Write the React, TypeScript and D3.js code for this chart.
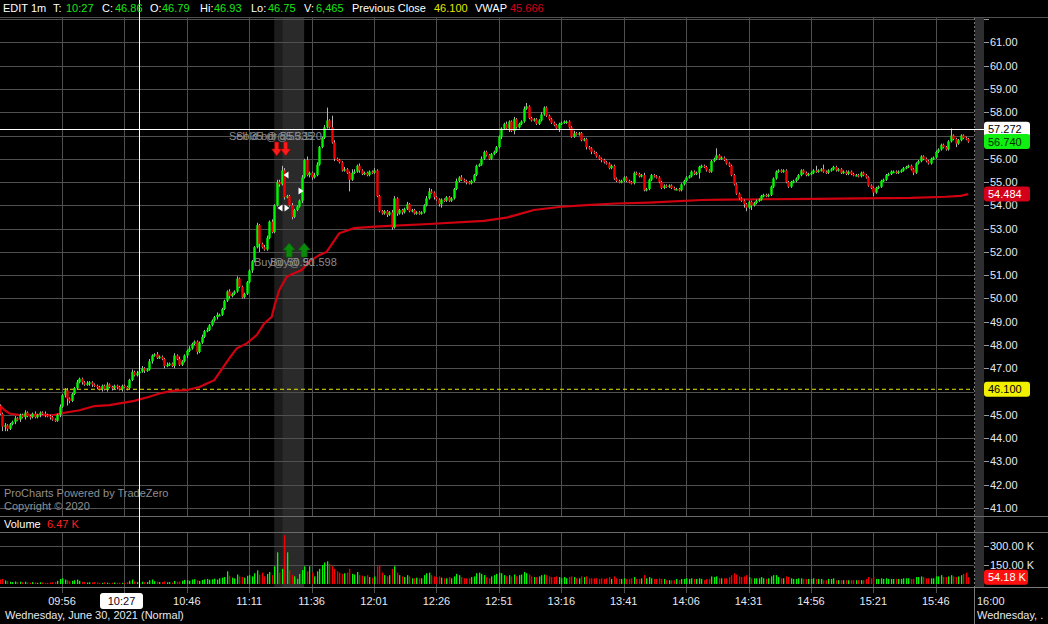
import React from "react";
import * as d3 from "d3";

const W = 1048;
const H = 624;

// ---------- DATA ----------
const FIRST_OPEN = 45.5;
// 1-minute closes, 9:30 .. 15:59 (390 candles)
const closes: number[] = [
  45.40, 45.05, 44.50, 44.55, 44.40, 44.60, 44.70, 44.85, 44.80, 45.00,
  44.90, 45.10, 44.95, 44.90, 45.05, 44.90, 45.00, 45.10, 45.05, 45.00,
  44.95, 44.90, 44.80, 44.75, 45.00, 45.35, 45.85, 46.05, 45.70, 45.60,
  45.90, 46.15, 46.40, 46.55, 46.40, 46.30, 46.35, 46.40, 46.30, 46.25,
  46.20, 46.10, 46.25, 46.10, 46.30, 46.20, 46.15, 46.25, 46.20, 46.10,
  46.25, 46.20, 46.15, 46.50, 46.85, 46.70, 46.79, 46.86, 47.00, 46.90,
  46.95, 47.30, 47.55, 47.60, 47.45, 47.50, 47.40, 47.10, 47.15, 47.20,
  47.10, 47.55, 47.40, 47.15, 47.30, 47.55, 47.75, 47.85, 48.05, 48.15,
  47.70, 48.10, 48.35, 48.60, 48.65, 48.85, 49.05, 49.20, 49.30, 49.30,
  49.55, 49.90, 50.30, 50.10, 50.20, 50.30, 50.85, 50.50, 50.05, 50.20,
  50.70, 51.20, 51.60, 52.20, 53.15, 52.35, 52.20, 52.10, 52.60, 53.30,
  52.85, 54.00, 55.00, 54.90, 55.50, 54.35, 54.40, 54.00, 53.50, 53.80,
  53.95, 54.20, 55.20, 55.95, 55.30, 55.40, 55.20, 55.30, 55.75, 56.50,
  56.90, 57.35, 57.65, 57.35, 56.70, 56.00, 55.95, 55.85, 55.50, 55.55,
  55.40, 55.10, 55.40, 55.45, 55.70, 55.50, 55.35, 55.40, 55.30, 55.45,
  55.40, 55.50, 54.40, 53.75, 53.65, 53.75, 53.60, 53.70, 53.05, 54.30,
  53.65, 53.80, 53.70, 53.85, 54.05, 53.75, 53.80, 53.65, 53.70, 53.65,
  53.70, 54.00, 54.30, 54.60, 54.55, 54.35, 54.25, 54.05, 54.25, 54.20,
  54.35, 54.20, 54.30, 54.70, 55.05, 55.20, 55.10, 55.05, 55.00, 54.95,
  55.05, 55.30, 55.70, 55.75, 56.00, 56.30, 56.15, 56.00, 56.20, 56.30,
  56.50, 56.95, 57.30, 57.50, 57.30, 57.60, 57.20, 57.70, 57.35, 57.50,
  57.60, 58.15, 58.25, 57.75, 57.65, 57.70, 57.50, 57.65, 57.90, 58.20,
  57.85, 57.70, 57.55, 57.45, 57.30, 57.50, 57.55, 57.60, 57.60, 57.35,
  56.95, 57.10, 57.05, 57.10, 56.80, 56.85, 56.50, 56.45, 56.30, 56.25,
  56.10, 56.00, 55.95, 55.85, 55.80, 55.60, 55.70, 55.15, 55.05, 55.00,
  55.05, 55.20, 55.05, 55.00, 54.95, 55.40, 55.35, 55.25, 55.30, 54.65,
  54.70, 55.10, 55.30, 55.25, 55.20, 55.00, 54.75, 54.85, 54.80, 54.85,
  54.75, 54.70, 54.70, 54.65, 54.90, 55.05, 55.20, 55.25, 55.45, 55.35,
  55.40, 55.65, 55.70, 55.65, 55.50, 55.45, 55.90, 56.00, 56.15, 56.00,
  56.05, 55.95, 55.80, 55.70, 55.30, 54.90, 54.50, 54.30, 54.20, 54.05,
  53.90, 54.15, 54.00, 54.10, 54.20, 54.25, 54.40, 54.45, 54.40, 54.45,
  54.80, 55.15, 55.45, 55.50, 55.45, 55.50, 55.00, 54.80, 55.00, 55.05,
  55.15, 55.30, 55.50, 55.40, 55.30, 55.35, 55.40, 55.50, 55.45, 55.50,
  55.55, 55.45, 55.40, 55.50, 55.55, 55.65, 55.50, 55.55, 55.40, 55.45,
  55.35, 55.45, 55.35, 55.30, 55.30, 55.25, 55.40, 55.30, 55.20, 54.85,
  54.75, 54.55, 54.75, 54.80, 55.05, 55.10, 55.30, 55.35, 55.45, 55.45,
  55.40, 55.45, 55.50, 55.60, 55.65, 55.70, 55.55, 55.40, 55.80, 55.90,
  56.10, 56.00, 55.90, 55.80, 56.00, 56.05, 56.30, 56.40, 56.60, 56.50,
  56.40, 56.75, 57.00, 56.85, 56.65, 56.80, 57.00, 56.90, 56.85, 56.74,
];

// wick lengths above / below the body, in 0.05 steps (base-36 digits)
const upperWicks =
  "1112111211" + "1211121112" + "1111121221" + "1121112111" + "1111211111" +
  "1111212121" + "1211211121" + "1212111211" + "1121211121" + "1112112111" +
  "1111211221" + "2122421121" + "1121311221" + "12b1a21112" + "1132121111" +
  "1211111122" + "1111211111" + "1123211111" + "1111212111" + "1111211111" +
  "1111211211" + "1231111121" + "1111111111" + "1211111111" + "1111111111" +
  "1111111112" + "1111111111" + "1111111111" + "1111111161" + "1111111111" +
  "1111111111" + "1111111111" + "1111111141" + "1411111111" + "1111111111" +
  "1111111111" + "1111111111" + "1111111111" + "1161111111";
const lowerWicks =
  "1144211212" + "1212111212" + "1211121262" + "1111211221" + "2121212121" +
  "2121111112" + "1121111211" + "1211112111" + "2111111121" + "1112111111" +
  "1121171111" + "1112121121" + "1121122111" + "1111121111" + "1a11121111" +
  "1111112121" + "2121111111" + "1111121231" + "1111111121" + "1111111111" +
  "1121131311" + "1111111111" + "1111131121" + "1111112121" + "1121111111" +
  "1111111111" + "1111111111" + "1111111111" + "1511111111" + "1111111113" +
  "3141111111" + "1111111111" + "1111111111" + "1111111111" + "1111111111" +
  "1311111111" + "1111111211" + "1111111111" + "1111311111";

// 1-minute volume, thousands of shares
const volumes: number[] = [
  45, 35, 40, 28, 22, 18, 15, 20, 15, 18,
  14, 18, 12, 10, 15, 12, 9, 14, 12, 9,
  10, 12, 14, 15, 25, 40, 45, 35, 30, 22,
  25, 30, 35, 25, 18, 15, 12, 14, 12, 15,
  12, 10, 9, 14, 10, 9, 10, 12, 9, 10,
  9, 10, 14, 25, 35, 20, 15, 6.465, 18, 15,
  16, 30, 35, 22, 18, 15, 16, 20, 14, 15,
  12, 24, 18, 20, 26, 32, 30, 26, 35, 38,
  30, 24, 32, 36, 40, 34, 37, 42, 35, 45,
  50, 55, 100, 65, 50, 45, 75, 60, 55, 50,
  65, 70, 60, 85, 108, 75, 90, 60, 80, 95,
  70, 140, 250, 90, 120, 385, 250, 110, 70, 60,
  40, 80, 110, 140, 100, 140, 90, 60, 100, 120,
  150, 170, 180, 160, 140, 120, 100, 90, 80, 85,
  90, 120, 80, 75, 95, 70, 65, 60, 70, 55,
  50, 60, 140, 150, 90, 70, 60, 70, 120, 140,
  90, 70, 60, 55, 70, 60, 45, 45, 50, 45,
  45, 70, 85, 90, 70, 60, 55, 60, 50, 45,
  45, 55, 45, 60, 80, 70, 55, 45, 45, 45,
  55, 60, 85, 90, 80, 70, 55, 45, 60, 70,
  80, 90, 85, 70, 60, 70, 60, 75, 60, 70,
  75, 95, 85, 75, 60, 55, 55, 60, 70, 75,
  70, 60, 55, 55, 60, 55, 45, 55, 45, 55,
  60, 55, 45, 45, 60, 55, 60, 45, 45, 45,
  45, 40, 45, 40, 45, 55, 40, 60, 45, 40,
  40, 45, 40, 40, 45, 55, 40, 40, 45, 70,
  45, 55, 45, 40, 40, 45, 40, 40, 30, 30,
  30, 30, 40, 30, 40, 40, 45, 40, 45, 40,
  40, 45, 40, 30, 40, 40, 60, 55, 60, 45,
  45, 45, 45, 55, 70, 85, 75, 60, 55, 60,
  70, 55, 45, 45, 45, 45, 55, 45, 40, 45,
  60, 70, 70, 55, 45, 45, 60, 55, 45, 40,
  40, 45, 45, 40, 40, 40, 40, 45, 40, 40,
  40, 30, 30, 40, 40, 45, 30, 30, 30, 30,
  30, 30, 30, 30, 30, 30, 30, 30, 40, 55,
  45, 55, 40, 40, 45, 40, 45, 40, 40, 40,
  40, 40, 40, 45, 45, 45, 40, 40, 55, 55,
  60, 55, 45, 45, 45, 45, 60, 60, 70, 55,
  55, 60, 70, 60, 55, 60, 70, 80, 90, 54.18,
];

// VWAP read at selected minutes (minute index from 9:30)
const vwapMinutes = [1, 3, 5, 9, 17, 23, 27, 33, 39, 45, 55, 57, 61, 65, 70, 76, 81, 87, 89, 93, 96, 100, 104, 107, 110, 111, 113, 116, 119, 122, 125, 129, 132, 137, 143, 153, 173, 195, 204, 215, 226, 236, 248, 261, 282, 291, 328, 366, 380, 386, 389];
const vwapValues = [45.42, 45.2, 45.06, 44.99, 44.99, 45.0, 45.09, 45.2, 45.38, 45.42, 45.6, 45.666, 45.78, 45.92, 46.03, 46.06, 46.2, 46.49, 46.8, 47.43, 47.86, 48.07, 48.43, 48.93, 49.21, 49.64, 50.36, 50.93, 51.08, 51.22, 51.58, 51.86, 52.0, 52.8, 53.02, 53.1, 53.2, 53.33, 53.47, 53.8, 53.94, 54.01, 54.08, 54.12, 54.23, 54.25, 54.28, 54.32, 54.37, 54.41, 54.484];

// price gridlines; labels hidden by the value boxes (46, 57) are not drawn
const priceGrid = [41, 42, 43, 44, 45, 46, 47, 48, 49, 50, 51, 52, 53, 54, 55, 56, 57, 58, 59, 60, 61, 62];
const priceLabels = [41, 42, 43, 44, 45, 47, 48, 49, 50, 51, 52, 53, 54, 55, 56, 58, 59, 60, 61];
const volumeTicks = [150, 300];
const volumeTickLabels = ["150.00 K", "300.00 K"];
const timeTickMinutes = [26, 51, 76, 101, 126, 151, 176, 201, 226, 251, 276, 301, 326, 351, 376];
const timeTickLabels = ["09:56", "10:21", "10:46", "11:11", "11:36", "12:01", "12:26", "12:51", "13:16", "13:41", "14:06", "14:31", "14:56", "15:21", "15:46"];

const PREV_CLOSE = 46.1;
const CROSS_MINUTE = 57;
const CROSS_LABEL = "10:27";
const CROSS_PRICE = 57.272;
const LAST_PRICE = 56.74;
const LAST_VWAP = 54.484;
const LAST_VOLUME = 54.18;
const TRADE_WINDOW = [111, 114.2, 123];
const sellMinutes = [112.0, 115.6];
const buyMinutes = [117.0, 123.0];

// ---------- LAYOUT ----------
const FONT = "'Liberation Sans', Arial, sans-serif";
const PLOT_R = 974;
const PRICE_TOP = 18;
const PRICE_BOT = 516;
const VOL_TOP = 532;
const VOL_BOT = 584;
const AXIS_Y = 587;
const GREEN = "#00f800";
const RED = "#f40000";
const GRID = "#505050";

export default function App() {
  const x = d3.scaleLinear().domain([0, 390]).range([-2.9, 970.7]);
  const y = d3.scaleLinear().domain([41, 61]).range([508, 42.4]);
  const yv = d3.scaleLinear().domain([0, 300]).range([VOL_BOT, 546]);

  const candles = closes.map((c, i) => {
    const o = i === 0 ? FIRST_OPEN : closes[i - 1];
    const uw = parseInt(upperWicks[i] || "1", 36) * 0.05;
    const lw = parseInt(lowerWicks[i] || "1", 36) * 0.05;
    return { i, o, c, h: Math.max(o, c) + uw, l: Math.min(o, c) - lw, v: volumes[i] };
  });

  const vwapLine = d3
    .line<number>()
    .x((_, k) => x(vwapMinutes[k]))
    .y((d) => y(d))
    .curve(d3.curveLinear)(vwapValues) as string;

  const box = (yc: number, label: string, fill: string, color: string, w = 46) => (
    <g key={label}>
      <rect x={984} y={yc - 7.5} width={w} height={15} rx={3} fill={fill} />
      <text x={988} y={yc + 4} fontSize={11} fill={color} fontFamily={FONT}>
        {label}
      </text>
    </g>
  );

  const crossX = x(CROSS_MINUTE);
  const crossY = y(CROSS_PRICE);

  const downArrow = (cx: number, top: number, key: string) => (
    <path
      key={key}
      d={`M${cx - 2},${top} h4 v7 h3 l-5,7 l-5,-7 h3 z`}
      fill="#ff1a1a"
      stroke="#a00000"
      strokeWidth={0.6}
    />
  );
  const upArrow = (cx: number, top: number, key: string) => (
    <path
      key={key}
      d={`M${cx},${top} l6,7 h-3 v7 h-6 v-7 h-3 z`}
      fill="#0a8a0a"
      stroke="#0c5c0c"
      strokeWidth={0.6}
    />
  );
  const tri = (cx: number, cy: number, dir: number, key: string) => (
    <path key={key} d={`M${cx + dir * -2.5},${cy} L${cx + dir * 2.5},${cy - 3.5} L${cx + dir * 2.5},${cy + 3.5} Z`} fill="#ffffff" />
  );

  return (
    <svg
      width={W}
      height={H}
      style={{ position: "fixed", left: 0, top: 0, background: "#000" }}
      fontFamily={FONT}
    >
      <defs>
        <clipPath id="pricePane">
          <rect x={0} y={PRICE_TOP} width={PLOT_R} height={PRICE_BOT - PRICE_TOP} />
        </clipPath>
        <clipPath id="volPane">
          <rect x={0} y={VOL_TOP} width={PLOT_R} height={VOL_BOT - VOL_TOP + 2} />
        </clipPath>
      </defs>
      <rect x={0} y={0} width={W} height={H} fill="#000" />

      {/* trade window shading */}
      <rect x={x(TRADE_WINDOW[0])} y={PRICE_TOP} width={x(TRADE_WINDOW[1]) - x(TRADE_WINDOW[0])} height={AXIS_Y - PRICE_TOP} fill="#1c1c1c" />
      <rect x={x(TRADE_WINDOW[1])} y={PRICE_TOP} width={x(TRADE_WINDOW[2]) - x(TRADE_WINDOW[1])} height={AXIS_Y - PRICE_TOP} fill="#2a2a2a" />
      {/* right strip */}
      <rect x={975} y={PRICE_TOP} width={9} height={AXIS_Y - PRICE_TOP} fill="#2e2e30" />

      {/* price grid */}
      {priceGrid.map((p) => (
        <g key={"pg" + p}>
          <line x1={0} x2={PLOT_R} y1={Math.round(y(p)) + 0.5} y2={Math.round(y(p)) + 0.5} stroke={GRID} />
          <line x1={984} x2={989} y1={Math.round(y(p)) + 0.5} y2={Math.round(y(p)) + 0.5} stroke="#9a9a9a" />
        </g>
      ))}
      {volumeTicks.map((v) => (
        <g key={"vg" + v}>
          <line x1={0} x2={PLOT_R} y1={Math.round(yv(v)) + 0.5} y2={Math.round(yv(v)) + 0.5} stroke={GRID} />
          <line x1={984} x2={989} y1={Math.round(yv(v)) + 0.5} y2={Math.round(yv(v)) + 0.5} stroke="#9a9a9a" />
        </g>
      ))}
      {timeTickMinutes.map((m) => (
        <g key={"tg" + m}>
          <line x1={Math.round(x(m)) + 0.5} x2={Math.round(x(m)) + 0.5} y1={PRICE_TOP} y2={PRICE_BOT} stroke={GRID} />
          <line x1={Math.round(x(m)) + 0.5} x2={Math.round(x(m)) + 0.5} y1={VOL_TOP} y2={AXIS_Y + 6} stroke={GRID} />
        </g>
      ))}

      {/* pane borders */}
      <line x1={0} x2={W} y1={17.5} y2={17.5} stroke={GRID} />
      <line x1={0} x2={W} y1={PRICE_BOT + 0.5} y2={PRICE_BOT + 0.5} stroke="#6a6a6a" />
      <line x1={0} x2={W} y1={VOL_TOP + 0.5} y2={VOL_TOP + 0.5} stroke="#6a6a6a" />
      <line x1={0} x2={W} y1={AXIS_Y + 0.5} y2={AXIS_Y + 0.5} stroke="#7a7a7a" />
      <line x1={974.5} x2={974.5} y1={PRICE_TOP} y2={AXIS_Y} stroke="#777" strokeDasharray="2,2" />
      <line x1={974.5} x2={974.5} y1={AXIS_Y} y2={H} stroke="#7a7a7a" />

      {/* previous close */}
      <line x1={0} x2={PLOT_R} y1={y(PREV_CLOSE)} y2={y(PREV_CLOSE)} stroke="#e8e800" strokeWidth={1} strokeDasharray="4,3" />

      <g clipPath="url(#pricePane)">
        {/* VWAP */}
        <path d={vwapLine} fill="none" stroke="#d00010" strokeWidth={2.2} />
        {/* candles */}
        {candles.map((d) => (
          <line key={"w" + d.i} x1={Math.round(x(d.i)) + 0.5} x2={Math.round(x(d.i)) + 0.5} y1={y(d.h)} y2={y(d.l)} stroke="#b4b4b4" strokeWidth={1} />
        ))}
        {candles.map((d) => {
          const top = y(Math.max(d.o, d.c));
          const bot = y(Math.min(d.o, d.c));
          return (
            <rect
              key={"b" + d.i}
              x={Math.round(x(d.i)) - 0.7}
              y={top}
              width={2.4}
              height={Math.max(1.5, bot - top)}
              fill={d.c >= d.o ? GREEN : RED}
            />
          );
        })}
      </g>

      {/* volume */}
      <g clipPath="url(#volPane)">
        {candles.map((d) => (
          <rect
            key={"v" + d.i}
            x={Math.round(x(d.i))}
            y={yv(d.v)}
            width={1.3}
            height={VOL_BOT - yv(d.v)}
            fill={d.c >= d.o ? GREEN : RED}
          />
        ))}
      </g>

      {/* trade annotations (overlapping order labels, as in the platform) */}
      <g fontSize={11} fill="#8c8c8c">
        <text x={229} y={140}>Sell 35 @ 55.335</text>
        <text x={236} y={140}>Sold bdr@55.120</text>
        <text x={254} y={266}>Buy@ 50.90</text>
        <text x={270} y={266}>Buy@ 51.598</text>
      </g>
      {sellMinutes.map((m, k) => downArrow(x(m), 142, "sa" + k))}
      {buyMinutes.map((m, k) => upArrow(x(m), 243, "ba" + k))}
      {tri(286, 175, 1, "t1")}
      {tri(280, 208, 1, "t2")}
      {tri(287, 208, -1, "t3")}
      {tri(301, 191, -1, "t4")}

      {/* watermark */}
      <text x={4} y={497} fontSize={11} fill="#8f8f8f">ProCharts Powered by TradeZero</text>
      <text x={4} y={510} fontSize={11} fill="#8f8f8f">Copyright © 2020</text>

      {/* volume title */}
      <text x={4} y={528} fontSize={11} fill="#ffffff">Volume</text>
      <text x={47} y={528} fontSize={11} fill="#ff2020">6.47 K</text>

      {/* crosshair */}
      <line x1={0} x2={984} y1={Math.round(crossY) + 0.5} y2={Math.round(crossY) + 0.5} stroke="#ffffff" />
      <line x1={Math.round(crossX) + 0.5} x2={Math.round(crossX) + 0.5} y1={0} y2={AXIS_Y + 1} stroke="#ffffff" />

      {/* right axis */}
      {priceLabels.map((p) => (
        <text key={"pl" + p} x={990} y={y(p) + 4} fontSize={11} fill="#e6e8f0">
          {p.toFixed(2)}
        </text>
      ))}
      {volumeTicks.map((v, k) => (
        <text key={"vl" + v} x={990} y={yv(v) + 4} fontSize={11} fill="#e6e8f0">
          {volumeTickLabels[k]}
        </text>
      ))}
      {box(y(CROSS_PRICE), CROSS_PRICE.toFixed(3), "#ffffff", "#000000")}
      {box(y(LAST_PRICE), LAST_PRICE.toFixed(3), "#11ee11", "#003000")}
      {box(y(LAST_VWAP), LAST_VWAP.toFixed(3), "#d4001a", "#ffffff")}
      {box(y(PREV_CLOSE), PREV_CLOSE.toFixed(3), "#f0f000", "#000000")}
      {box(yv(LAST_VOLUME), LAST_VOLUME.toFixed(2) + " K", "#ff1010", "#ffffff", 44)}

      {/* bottom axis (the 10:21 label sits under the crosshair time box) */}
      {timeTickMinutes.map((m, k) =>
        timeTickLabels[k] === "10:21" ? null : (
          <text key={"tl" + m} x={x(m)} y={605} fontSize={11} fill="#e6e8f0" textAnchor="middle">
            {timeTickLabels[k]}
          </text>
        )
      )}
      <rect x={100} y={593} width={43} height={16} rx={3} fill="#ffffff" />
      <text x={121.5} y={605} fontSize={11} fill="#200020" textAnchor="middle">{CROSS_LABEL}</text>
      <text x={5} y={619} fontSize={11} fill="#e6e8f0">Wednesday, June 30, 2021 (Normal)</text>
      <text x={977} y={605} fontSize={11} fill="#e6e8f0">16:00</text>
      <text x={977} y={619} fontSize={11} fill="#e6e8f0">Wednesday, .</text>

      {/* header */}
      <g fontSize={11}>
        <text x={3} y={12} fill="#ffffff">EDIT 1m</text>
        <text x={53} y={12} fill="#ffffff">T:</text>
        <text x={66} y={12} fill="#19e619">10:27</text>
        <text x={102} y={12} fill="#ffffff">C:</text>
        <text x={115} y={12} fill="#19e619">46.86</text>
        <text x={150} y={12} fill="#ffffff">O:</text>
        <text x={162} y={12} fill="#19e619">46.79</text>
        <text x={200} y={12} fill="#ffffff">Hi:</text>
        <text x={214} y={12} fill="#19e619">46.93</text>
        <text x={251} y={12} fill="#ffffff">Lo:</text>
        <text x={268} y={12} fill="#19e619">46.75</text>
        <text x={304} y={12} fill="#ffffff">V:</text>
        <text x={316} y={12} fill="#19e619">6,465</text>
        <text x={352} y={12} fill="#ffffff">Previous Close</text>
        <text x={434} y={12} fill="#e6e600">46.100</text>
        <text x={475} y={12} fill="#ffffff">VWAP</text>
        <text x={510} y={12} fill="#d4001a">45.666</text>
      </g>
    </svg>
  );
}
